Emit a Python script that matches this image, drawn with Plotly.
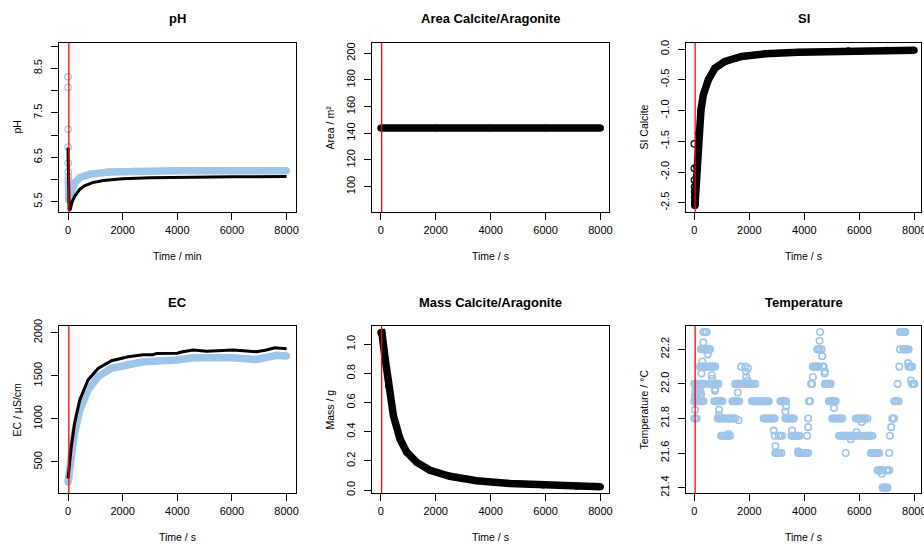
import plotly.graph_objects as go

FONT = "Liberation Sans, Arial, Helvetica, sans-serif"
BLUE = "#9DC5E9"
W, H = 924, 546

# ---------------- data ----------------
red_line_time = 30

x_ticks = [0, 2000, 4000, 6000, 8000]

# pH
ph_initial_time = [0, 2, 4, 6, 8, 10, 12, 14, 16, 18, 20, 22, 24, 26]
ph_initial = [8.31, 8.07, 7.13, 6.73, 6.37, 6.17, 6.06, 5.98, 5.90, 5.82, 5.75, 5.68, 5.60, 5.55]
ph_meas_time = [30, 60, 120, 250, 430, 800, 1500, 2500, 4000, 6000, 8000]
ph_meas = [5.55, 5.62, 5.76, 5.93, 6.04, 6.12, 6.17, 6.19, 6.20, 6.20, 6.20]
ph_model_time = [0, 20, 40, 80, 150, 250, 430, 600, 900, 1300, 2000, 3000, 4000, 6000, 8000]
ph_model = [6.72, 6.00, 5.31, 5.33, 5.50, 5.63, 5.78, 5.86, 5.93, 5.98, 6.02, 6.04, 6.05, 6.06, 6.07]
ph_ticks = [5.5, 6.0, 6.5, 7.0, 7.5, 8.0, 8.5, 9.0]
ph_ticklabels = ["5.5", "", "6.5", "", "7.5", "", "8.5", ""]

# Area
area_time = [0, 2000, 4000, 6000, 8000]
area = [144, 144, 144, 144, 144]
area_ticks = [100, 120, 140, 160, 180, 200]

# SI
si_initial_time = [0, 3, 6, 9, 12, 15, 18, 21]
si_initial = [-1.54, -1.94, -2.13, -2.24, -2.32, -2.40, -2.48, -2.54]
si_time = [24, 50, 85, 145, 242, 327, 510, 750, 1115, 1720, 2570, 3780, 5600, 7000, 8000]
si = [-2.54, -2.30, -1.91, -1.37, -0.99, -0.745, -0.50, -0.31, -0.20, -0.12, -0.076, -0.049, -0.025, -0.018, -0.02]
si_ticks = [0.0, -0.5, -1.0, -1.5, -2.0, -2.5]

# EC
ec_meas_time = [0, 40, 120, 240, 430, 730, 1100, 1590, 2200, 2750, 3970, 4580, 6045, 6900, 7630, 8000]
ec_meas = [265, 330, 560, 832, 1103, 1335, 1490, 1586, 1636, 1663, 1683, 1710, 1710, 1690, 1737, 1729]
ec_model_time = [0, 40, 120, 240, 430, 730, 1100, 1590, 2200, 2750, 3100, 3250, 4000, 4150, 4580,
                 5070, 6045, 6900, 7265, 7570, 8000]
ec_model = [310, 430, 678, 948, 1219, 1451, 1586, 1675, 1721, 1745, 1745, 1760, 1762, 1776, 1800,
            1784, 1800, 1780, 1800, 1826, 1814]
ec_ticks = [500, 1000, 1500, 2000]

# Mass
mass_time = [0, 40, 160, 280, 460, 700, 945, 1310, 1790, 2520, 3490, 4700, 5915, 7130, 8000]
mass = [1.08, 1.08, 0.90, 0.716, 0.51, 0.35, 0.26, 0.19, 0.136, 0.095, 0.064, 0.045, 0.034, 0.027, 0.023]
mass_ticks = [0.0, 0.2, 0.4, 0.6, 0.8, 1.0]

# Temperature
temp_time = [
    0, 40, 85,
    0, 50, 100, 150, 200, 250, 300, 330,
    0, 50, 100, 150, 200, 250, 300, 365,
    20, 40, 60, 80, 110, 130, 160, 190, 220, 250, 30,
    210, 260, 310, 360, 410, 460, 510, 560, 610, 660, 710, 755,
    245, 295, 345, 395, 445, 495, 545, 572,
    330, 390, 450,
    330, 290, 260, 490, 633, 640,
    572, 620, 670, 720, 770, 820, 877,
    755, 760,
    731, 780, 830, 880, 930, 980, 1023,
    901, 901,
    853, 900, 950, 1000, 1050, 1120,
    974, 1030, 1080, 1130, 1180, 1230, 1303, 1242,
    1218, 1270, 1320, 1370, 1420, 1486, 1608,
    1583,
    1388, 1440, 1490, 1540, 1590, 1632,
    1486, 1540, 1590, 1640, 1690, 1740, 1790, 1840, 1890, 1940, 1990, 2040, 2090, 2140, 2217,
    1705, 1851, 1949, 1876, 1888, 1937,
    2095, 2150, 2200, 2250, 2300, 2350, 2400, 2450, 2500, 2550, 2600, 2650, 2704,
    2521, 2570, 2620, 2670, 2720, 2770, 2820, 2870, 2923,
    2887, 2923, 2948,
    2948, 3000, 3050, 3100, 3167,
    3069, 3130, 3191,
    3130, 3180, 3230, 3280, 3337, 3337, 3313,
    3313, 3360, 3410, 3460, 3510, 3560, 3617,
    3557, 3532, 3580, 3630, 3680, 3730, 3780, 3825,
    3776, 3776, 3830, 3880, 3930, 3980, 4030, 4080, 4141,
    4105, 4141, 4141, 4170, 4190, 4210,
    4250, 4265, 4280, 4312,
    4312, 4360, 4410, 4460, 4510, 4531,
    4470, 4510, 4560,
    4555, 4580, 4628, 4653, 4677, 4700, 4750, 4738,
    4750, 4800, 4850, 4900, 4957,
    4896, 4950, 5000, 5050, 5100, 5140, 5079,
    5018, 5070, 5120, 5170, 5220, 5270, 5320, 5384,
    5262, 5320, 5370, 5420, 5470, 5520, 5570, 5620, 5670, 5720, 5770, 5820, 5870, 5920, 5970, 6020, 6053, 5688, 5506,
    5871, 5920, 5970, 6020, 6070, 6120, 6170, 6220, 6297, 6090, 5895,
    6175, 6230, 6280, 6330, 6380, 6430, 6480,
    6419, 6470, 6520, 6570, 6620, 6680, 6723,
    6662, 6710, 6760, 6800, 6845, 6821,
    6845, 6890, 6940, 6990, 7028,
    6991, 7040, 7089,
    7089, 7113, 7162,
    7200, 7230, 7260,
    7272, 7320, 7370, 7430,
    7393, 7455, 7479,
    7479, 7530, 7580, 7630, 7673,
    7600, 7650, 7700, 7750, 7795, 7771,
    7795, 7840, 7880, 7917, 7880,
    7917, 7960, 8000,
]
temp_c = [
    21.8, 21.8, 21.8,
    21.9, 21.9, 21.9, 21.9, 21.9, 21.9, 21.9, 21.9,
    22.0, 22.0, 22.0, 22.0, 22.0, 22.0, 22.0, 22.0,
    21.93, 21.96, 21.94, 21.98, 21.92, 21.95, 21.97, 21.93, 21.96, 21.94, 21.85,
    22.1, 22.1, 22.1, 22.1, 22.1, 22.1, 22.1, 22.1, 22.1, 22.1, 22.1, 22.1,
    22.2, 22.2, 22.2, 22.2, 22.2, 22.2, 22.2, 22.2,
    22.3, 22.3, 22.3,
    22.24, 22.13, 22.06, 22.17, 22.05, 22.03,
    22.0, 22.0, 22.0, 22.0, 22.0, 22.0, 22.0,
    21.96, 21.97,
    21.9, 21.9, 21.9, 21.9, 21.9, 21.9, 21.9,
    21.85, 21.82,
    21.8, 21.8, 21.8, 21.8, 21.8, 21.8,
    21.7, 21.7, 21.7, 21.7, 21.7, 21.7, 21.7, 21.71,
    21.8, 21.8, 21.8, 21.8, 21.8, 21.8, 21.79,
    21.95,
    21.9, 21.9, 21.9, 21.9, 21.9, 21.9,
    22.0, 22.0, 22.0, 22.0, 22.0, 22.0, 22.0, 22.0, 22.0, 22.0, 22.0, 22.0, 22.0, 22.0, 22.0,
    22.1, 22.1, 22.09, 22.07, 22.04, 22.02,
    21.9, 21.9, 21.9, 21.9, 21.9, 21.9, 21.9, 21.9, 21.9, 21.9, 21.9, 21.9, 21.9,
    21.8, 21.8, 21.8, 21.8, 21.8, 21.8, 21.8, 21.8, 21.8,
    21.73, 21.7, 21.64,
    21.6, 21.6, 21.6, 21.6, 21.6,
    21.7, 21.7, 21.7,
    21.9, 21.9, 21.9, 21.9, 21.9, 21.87, 21.84,
    21.8, 21.8, 21.8, 21.8, 21.8, 21.8, 21.8,
    21.73, 21.7, 21.7, 21.7, 21.7, 21.7, 21.7, 21.7,
    21.61, 21.6, 21.6, 21.6, 21.6, 21.6, 21.6, 21.6, 21.6,
    21.7, 21.75, 21.8, 21.9, 21.9, 21.9,
    22.0, 22.0, 22.0, 22.04,
    22.1, 22.1, 22.1, 22.1, 22.1, 22.1,
    22.2, 22.2, 22.2,
    22.25, 22.3, 22.2, 22.16, 22.1, 22.1, 22.07, 22.06,
    22.0, 22.0, 22.0, 22.0, 22.0,
    21.9, 21.9, 21.9, 21.9, 21.9, 21.9, 21.86,
    21.8, 21.8, 21.8, 21.8, 21.8, 21.8, 21.8, 21.8,
    21.7, 21.7, 21.7, 21.7, 21.7, 21.7, 21.7, 21.7, 21.7, 21.7, 21.7, 21.7, 21.7, 21.7, 21.7, 21.7, 21.7, 21.68, 21.6,
    21.8, 21.8, 21.8, 21.8, 21.8, 21.8, 21.8, 21.8, 21.8, 21.78, 21.72,
    21.7, 21.7, 21.7, 21.7, 21.7, 21.7, 21.7,
    21.6, 21.6, 21.6, 21.6, 21.6, 21.6, 21.6,
    21.5, 21.5, 21.5, 21.5, 21.5, 21.48,
    21.4, 21.4, 21.4, 21.4, 21.4,
    21.5, 21.5, 21.5,
    21.6, 21.7, 21.75,
    21.8, 21.8, 21.8,
    21.9, 21.9, 21.9, 21.9,
    22.0, 22.1, 22.2,
    22.3, 22.3, 22.3, 22.3, 22.3,
    22.2, 22.2, 22.2, 22.2, 22.2, 22.12,
    22.1, 22.1, 22.1, 22.1, 22.02,
    22.0, 22.0, 22.0,
]
assert len(temp_time) == len(temp_c)
temp_ticks = [21.4, 21.6, 21.8, 22.0, 22.2]

# ---------------- layout geometry (pixels) ----------------
# (left, right, top, bottom) of each plot box
boxes = {
    1: (59, 296, 43, 212), 2: (372, 609, 43, 212), 3: (686, 921, 43, 212),
    4: (59, 296, 326, 493), 5: (372, 609, 326, 493), 6: (686, 921, 326, 493),
}
x_ranges = {1: [-330, 8345], 2: [-320, 8310], 3: [-302, 8244],
            4: [-330, 8345], 5: [-320, 8310], 6: [-302, 8244]}
y_ranges = {1: [5.27, 9.07], 2: [81, 207.7], 3: [-2.65, 0.10],
            4: [140, 2078], 5: [-0.02, 1.125], 6: [21.369, 22.335]}
titles = {1: "pH", 2: "Area Calcite/Aragonite", 3: "SI", 4: "EC",
          5: "Mass Calcite/Aragonite", 6: "Temperature"}
x_titles = {1: "Time / min", 2: "Time / s", 3: "Time / s", 4: "Time / s", 5: "Time / s", 6: "Time / s"}
y_titles = {1: "pH", 2: "Area / m²", 3: "SI Calcite", 4: "EC / µS/cm", 5: "Mass / g", 6: "Temperature / °C"}
y_tickvals = {1: ph_ticks, 2: area_ticks, 3: si_ticks, 4: ec_ticks, 5: mass_ticks, 6: temp_ticks}
y_ticktext = {1: ph_ticklabels, 2: [str(v) for v in area_ticks], 3: [f"{v:.1f}" for v in si_ticks],
              4: [str(v) for v in ec_ticks], 5: [f"{v:.1f}" for v in mass_ticks],
              6: [f"{v:.1f}" for v in temp_ticks]}

fig = go.Figure()


def ax(i):
    return ("x" if i == 1 else f"x{i}"), ("y" if i == 1 else f"y{i}")


def band(i, t, v, color, width=7.5):
    xa, ya = ax(i)
    fig.add_trace(go.Scatter(x=t, y=v, xaxis=xa, yaxis=ya, mode="lines+markers",
                             line=dict(color=color, width=width),
                             marker=dict(symbol="circle", size=width - 0.5, color=color),
                             showlegend=False, hoverinfo="skip"))


def rings(i, t, v, color, size=6.5, lw=1.2):
    xa, ya = ax(i)
    fig.add_trace(go.Scatter(x=t, y=v, xaxis=xa, yaxis=ya, mode="markers",
                             marker=dict(symbol="circle-open", size=size, color=color,
                                         line=dict(width=lw, color=color)),
                             showlegend=False, hoverinfo="skip"))


def curve(i, t, v, color, width=3):
    xa, ya = ax(i)
    fig.add_trace(go.Scatter(x=t, y=v, xaxis=xa, yaxis=ya, mode="lines",
                             line=dict(color=color, width=width),
                             showlegend=False, hoverinfo="skip"))


# panel 1: pH
rings(1, ph_initial_time, ph_initial, BLUE)
band(1, ph_meas_time, ph_meas, BLUE)
curve(1, ph_model_time, ph_model, "black", 3)
# panel 2: area
band(2, area_time, area, "black")
# panel 3: SI
rings(3, si_initial_time, si_initial, "black")
band(3, si_time, si, "black")
# panel 4: EC
band(4, ec_meas_time, ec_meas, BLUE)
curve(4, ec_model_time, ec_model, "black", 3)
# panel 5: mass
band(5, mass_time, mass, "black")
# panel 6: temperature
rings(6, temp_time, temp_c, BLUE, size=6.5, lw=1.6)

layout = dict(width=W, height=H, margin=dict(l=0, r=0, t=0, b=0, autoexpand=False),
              paper_bgcolor="white", plot_bgcolor="white", showlegend=False,
              font=dict(family=FONT, color="black", size=11))
annotations = []
shapes = []
for i, (l, r, t, b) in boxes.items():
    xk = "xaxis" if i == 1 else f"xaxis{i}"
    yk = "yaxis" if i == 1 else f"yaxis{i}"
    xa, ya = ax(i)
    common = dict(showline=True, linecolor="black", linewidth=1, mirror=True,
                  ticks="outside", ticklen=7, tickwidth=1, tickcolor="black",
                  showgrid=False, zeroline=False, fixedrange=True, automargin=False,
                  ticklabeloverflow="allow",
                  tickfont=dict(family=FONT, size=11, color="black"))
    layout[xk] = dict(domain=[l / W, r / W], range=x_ranges[i], anchor=ya,
                      tickvals=x_ticks, ticktext=[str(v) for v in x_ticks],
                      ticklabelstandoff=1, **common)
    layout[yk] = dict(domain=[1 - b / H, 1 - t / H], range=y_ranges[i], anchor=xa,
                      tickvals=y_tickvals[i], ticktext=y_ticktext[i], tickangle=-90,
                      ticklabelstandoff=5, **common)
    cx = (l + r) / 2
    cy = (t + b) / 2
    annotations.append(dict(text=f"<b>{titles[i]}</b>", x=cx / W, y=1 - (t - 24) / H,
                            xref="paper", yref="paper", showarrow=False,
                            xanchor="center", yanchor="middle",
                            font=dict(family=FONT, size=13, color="black")))
    annotations.append(dict(text=x_titles[i], x=cx / W, y=1 - (b + 44) / H,
                            xref="paper", yref="paper", showarrow=False,
                            xanchor="center", yanchor="middle",
                            font=dict(family=FONT, size=10.5, color="black")))
    annotations.append(dict(text=y_titles[i], x=(l - 43) / W, y=1 - cy / H,
                            xref="paper", yref="paper", showarrow=False, textangle=-90,
                            xanchor="center", yanchor="middle",
                            font=dict(family=FONT, size=10.5, color="black")))
    shapes.append(dict(type="line", xref=xa, yref=f"{ya} domain", x0=red_line_time,
                       x1=red_line_time, y0=0, y1=1, line=dict(color="#FF0000", width=1.3),
                       layer="above"))

layout["annotations"] = annotations
layout["shapes"] = shapes
fig.update_layout(**layout)
fig.write_html("out.html", config={"displayModeBar": False, "staticPlot": True},
               post_script="document.body.style.margin='0';document.body.style.overflow='hidden';")
